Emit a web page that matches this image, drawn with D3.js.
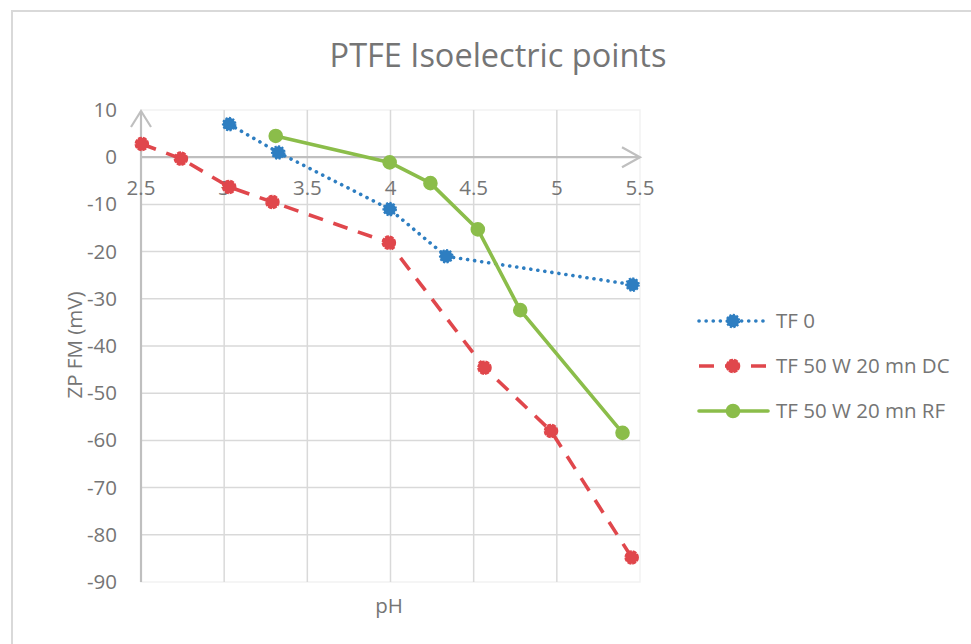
<!DOCTYPE html>
<html><head><meta charset="utf-8">
<script src="https://cdn.jsdelivr.net/npm/d3@7/dist/d3.min.js"></script>
<style>
html,body{margin:0;padding:0;background:#fff;}
text{font-family:"Open Sans",Lato,sans-serif;fill:#757575;}
</style></head>
<body><svg id="c" width="971" height="644"></svg>
<script>
const title = "PTFE Isoelectric points";
const xTicks = [2.5, 3, 3.5, 4, 4.5, 5, 5.5];
const yTicks = [10, 0, -10, -20, -30, -40, -50, -60, -70, -80, -90];
const seriesNames = ["TF 0", "TF 50 W 20 mn DC", "TF 50 W 20 mn RF"];
const tf0X = [3.03, 3.325, 3.995, 4.335, 5.455];
const tf0Y = [7.0, 1.0, -11.0, -21.0, -27.0];
const dcX = [2.505, 2.74, 3.03, 3.29, 3.99, 4.565, 4.965, 5.45];
const dcY = [2.8, -0.3, -6.3, -9.5, -18.1, -44.6, -58.0, -84.8];
const rfX = [3.31, 3.995, 4.24, 4.525, 4.78, 5.395];
const rfY = [4.5, -1.1, -5.5, -15.3, -32.4, -58.4];
const colors = ["#2e7ec1", "#e0474c", "#8bbd4a"];

const svg = d3.select("#c");
svg.append("rect").attr("x",12).attr("y",11).attr("width",1000).attr("height",700)
  .attr("fill","#fff").attr("stroke","#d9d9d9").attr("stroke-width",2);

const x = d3.scaleLinear().domain([2.5,5.5]).range([141,640]);
const y = d3.scaleLinear().domain([10,-90]).range([110,582]);

svg.append("rect").attr("x",x(2.5)).attr("y",y(10)).attr("width",x(5.5)-x(2.5)).attr("height",y(-90)-y(10))
  .attr("fill","none").attr("stroke","#f2f2f2").attr("stroke-width",1.5);

const g = svg.append("g");
g.selectAll(".hg").data(yTicks.filter(d=>d<0 && d>-90)).join("line")
  .attr("x1",x(2.5)).attr("x2",x(5.5)).attr("y1",d=>y(d)).attr("y2",d=>y(d))
  .attr("stroke","#d9d9d9").attr("stroke-width",1.5);
g.selectAll(".vg").data(xTicks.filter(d=>d>2.5 && d<5.5)).join("line")
  .attr("y1",y(10)).attr("y2",y(-90)).attr("x1",d=>x(d)).attr("x2",d=>x(d))
  .attr("stroke","#d9d9d9").attr("stroke-width",1.5);

const axc = "#bfbfbf";
svg.append("line").attr("x1",x(2.5)).attr("x2",x(2.5)).attr("y1",y(-90)).attr("y2",y(10)+1)
  .attr("stroke",axc).attr("stroke-width",2.2);
svg.append("line").attr("x1",x(2.5)).attr("x2",x(5.5)).attr("y1",y(0)).attr("y2",y(0))
  .attr("stroke",axc).attr("stroke-width",2.2);
svg.append("path").attr("d",`M${x(2.5)-10},${y(10)+17} L${x(2.5)},${y(10)+1} L${x(2.5)+10},${y(10)+17}`)
  .attr("fill","none").attr("stroke",axc).attr("stroke-width",2.2);
svg.append("path").attr("d",`M${x(5.5)-18},${y(0)-10} L${x(5.5)},${y(0)} L${x(5.5)-18},${y(0)+10}`)
  .attr("fill","none").attr("stroke",axc).attr("stroke-width",2.2);

const fs = 20.5;
svg.append("g").selectAll("text").data(xTicks).join("text")
  .attr("x",d=>x(d)).attr("y",y(0)+38).attr("text-anchor","middle")
  .attr("font-size",fs).text(d=>d);
svg.append("g").selectAll("text").data(yTicks).join("text")
  .attr("x",117).attr("y",d=>y(d)+7).attr("text-anchor","end")
  .attr("font-size",fs).text(d=>d);

svg.append("text").attr("x",498).attr("y",67).attr("text-anchor","middle").attr("font-size",32.5).text(title);
svg.append("text").attr("transform","translate(82,345) rotate(-90)").attr("text-anchor","middle")
  .attr("font-size",fs).text("ZP FM (mV)");
svg.append("text").attr("x",389).attr("y",613).attr("text-anchor","middle").attr("font-size",fs).text("pH");

const series = [
  {name:seriesNames[0], xs:tf0X, ys:tf0Y, color:colors[0], dash:"0.1 7", cap:"round", mdash:"2 1.6"},
  {name:seriesNames[1], xs:dcX, ys:dcY, color:colors[1], dash:"15 11", cap:"butt", mdash:"4 1"},
  {name:seriesNames[2], xs:rfX, ys:rfY, color:colors[2], dash:null, cap:"round", mdash:null}
];
const line = d3.line().x(d=>x(d[0])).y(d=>y(d[1]));
series.forEach(s=>{
  const pts = s.xs.map((v,i)=>[v,s.ys[i]]);
  svg.append("path").datum(pts).attr("d",line).attr("fill","none")
    .attr("stroke",s.color).attr("stroke-width",3.6)
    .attr("stroke-dasharray",s.dash).attr("stroke-linecap",s.cap).attr("stroke-linejoin","round");
  svg.append("g").selectAll("circle").data(pts).join("circle")
    .attr("cx",d=>x(d[0])).attr("cy",d=>y(d[1])).attr("r",6.3)
    .attr("fill",s.color).attr("stroke",s.color).attr("stroke-width",2)
    .attr("stroke-dasharray",s.mdash);
});

const lg = svg.append("g");
series.forEach((s,i)=>{
  const ly = 321 + i*45;
  lg.append("line").attr("x1",699).attr("x2",768).attr("y1",ly).attr("y2",ly)
    .attr("stroke",s.color).attr("stroke-width",3.6).attr("stroke-dasharray",s.dash)
    .attr("stroke-linecap",s.cap);
  lg.append("circle").attr("cx",733).attr("cy",ly).attr("r",6.3).attr("fill",s.color)
    .attr("stroke",s.color).attr("stroke-width",2).attr("stroke-dasharray",s.mdash);
  lg.append("text").attr("x",776).attr("y",ly+7).attr("font-size",fs).text(s.name);
});
</script></body></html>
